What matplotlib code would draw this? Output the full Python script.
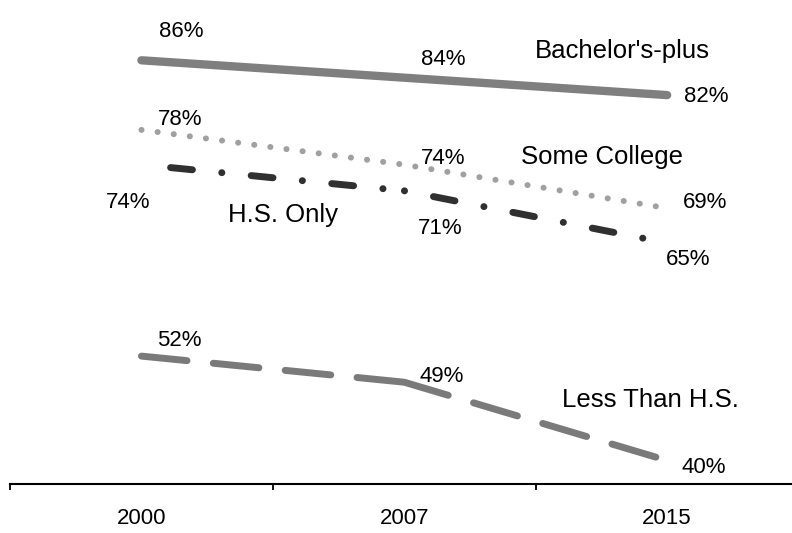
import matplotlib
matplotlib.use("Agg")
import matplotlib.pyplot as plt

plt.rcParams['font.family'] = ['Liberation Sans', 'DejaVu Sans']
plt.rcParams['lines.scale_dashes'] = False

years = ['2000', '2007', '2015']
bachelors = [86, 84, 82]
some_college = [78, 74, 69]
hs_only = [74, 71, 65]
less_than_hs = [52, 49, 40]

x = [0, 1, 2]

fig = plt.figure(figsize=(7.92, 5.33), dpi=100)
ax = fig.add_axes([10 / 792, 49 / 533, 782 / 792, 484 / 533])

# lines
ax.plot(x, bachelors, color='#7f7f7f', lw=6, solid_capstyle='round')
ax.plot(x, some_college, color='#a0a0a0', lw=4.3, linestyle=(0, (0.1, 11.6)),
        dash_capstyle='round')

# dash pattern restarts at every point (like the original chart)
hs_offsets = [37.2, 36.9]
for i in range(len(x) - 1):
    ax.plot(x[i:i + 2], hs_only[i:i + 2], color='#303030', lw=5,
            dash_capstyle='round',
            linestyle=(hs_offsets[i], (15.8, 21.2, 0.1, 21.2)))
    ax.plot(x[i:i + 2], less_than_hs[i:i + 2], color='#7a7a7a', lw=5,
            linestyle=(0, (33, 19)), dash_capstyle='round')

# value labels (baseline positions)
fs = 16
labels = [
    (0.150, 88.68, '86%'), (1.148, 85.46, '84%'), (2.150, 81.22, '82%'),
    (0.148, 78.56, '78%'), (1.146, 74.08, '74%'), (2.144, 68.99, '69%'),
    (-0.049, 69.0, '74%'), (1.135, 65.98, '71%'), (2.080, 62.47, '65%'),
    (0.143, 53.16, '52%'), (1.141, 48.99, '49%'), (2.139, 38.56, '40%'),
]
for lx, ly, txt in labels:
    ax.text(lx, ly, txt, fontsize=fs, ha='center', va='baseline')

names = [
    (1.829, 86.26, "Bachelor's-plus"), (1.751, 74.1, 'Some College'),
    (0.540, 67.36, 'H.S. Only'), (1.935, 46.14, 'Less Than H.S.'),
]
for lx, ly, txt in names:
    ax.text(lx, ly, txt, fontsize=18.5, ha='center', va='baseline')

ax.set_xlim(-0.5, 2.475)
ax.set_ylim(37.3, 92.93)

for s in ['top', 'right', 'left']:
    ax.spines[s].set_visible(False)
ax.spines['bottom'].set_linewidth(1.5)
ax.set_yticks([])

ax.set_xticks([-0.5, 0.5, 1.5])
ax.set_xticklabels([])
ax.tick_params(axis='x', which='major', length=4, width=1.3, direction='out')
ax.set_xticks(x, minor=True)
ax.set_xticklabels(years, minor=True, fontsize=fs)
ax.tick_params(axis='x', which='minor', length=0, pad=17.5)

fig.savefig('out.png', dpi=100)
